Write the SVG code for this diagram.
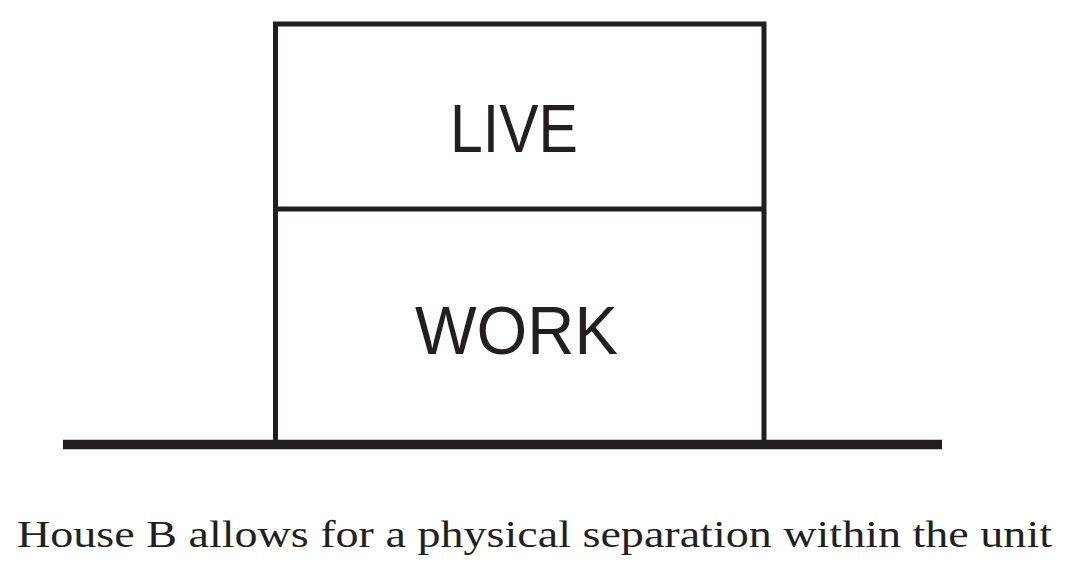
<svg xmlns="http://www.w3.org/2000/svg" width="1069" height="574" viewBox="0 0 1069 574">
<style>
.ln{stroke:#231f20;fill:none}
.lbl{font-family:"Liberation Sans",Arial,sans-serif;font-size:69px;fill:#231f20}
.cap{font-family:"Liberation Serif","Times New Roman",serif;font-size:37px;fill:#231f20}
</style>
<rect width="1069" height="574" fill="#ffffff"/>
<g id="connectors">
<line class="ln" x1="63" y1="444.5" x2="942" y2="444.5" stroke-width="9.5"/>
</g>
<g id="live">
<path class="ln" stroke-width="5" d="M275.5 440 V24 H764 V440"/>
<text class="lbl" x="514" y="152" text-anchor="middle" textLength="128" lengthAdjust="spacingAndGlyphs">LIVE</text>
</g>
<g id="work">
<line class="ln" stroke-width="5" x1="275.5" y1="209" x2="764" y2="209"/>
<text class="lbl" x="516.5" y="354" text-anchor="middle" textLength="203" lengthAdjust="spacingAndGlyphs">WORK</text>
</g>
<text class="cap" x="17" y="547" textLength="1035" lengthAdjust="spacingAndGlyphs">House B allows for a physical separation within the unit</text>
</svg>
